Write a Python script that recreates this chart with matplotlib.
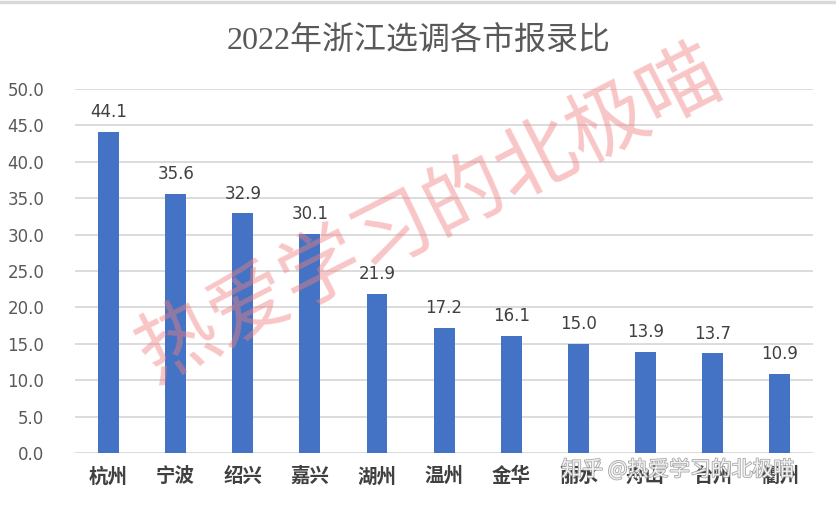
import matplotlib.pyplot as plt
import matplotlib.patheffects as pe

plt.rcParams['font.family'] = ['DejaVu Sans', 'Noto Sans CJK SC']

# Data
cities = ['杭州', '宁波', '绍兴', '嘉兴', '湖州', '温州', '金华', '丽水', '舟山', '台州', '衢州']
ratio = [44.1, 35.6, 32.9, 30.1, 21.9, 17.2, 16.1, 15.0, 13.9, 13.7, 10.9]
yticks = [0, 5, 10, 15, 20, 25, 30, 35, 40, 45, 50]

fig = plt.figure(figsize=(8.37, 5.08), dpi=100)
ax = fig.add_axes([0.0896, 0.108, 0.882, 0.717])

x = range(len(cities))
bars = ax.bar(x, ratio, width=0.31, color='#4472c4', zorder=2)

for xi, v in zip(x, ratio):
    ax.annotate(f'{v:.1f}', (xi, v), xytext=(0, 14), textcoords='offset points',
                ha='center', va='center', fontsize=12, color='#404040', zorder=3)

ax.set_xlim(-0.5, len(cities) - 0.5)
ax.set_ylim(0, 50)
ax.set_yticks(yticks)
ax.set_yticklabels([f'{t:.1f}' for t in yticks], fontsize=12, color='#595959')
ax.set_xticks(list(x))
ax.set_xticklabels(cities, fontsize=14, color='#404040', fontweight='bold',
                   family=['Noto Sans CJK SC'])
ax.tick_params(axis='both', length=0)
ax.tick_params(axis='y', pad=22)
ax.tick_params(axis='x', pad=10)
ax.grid(axis='y', color='#d9d9d9', linewidth=1.3, zorder=0)
ax.set_axisbelow(True)
for s in ax.spines.values():
    s.set_visible(False)

# Title
fig.text(0.5, 0.917, '2022年浙江选调各市报录比', ha='center', va='center',
         fontsize=23, color='#595959', family=['Liberation Serif', 'Noto Sans CJK SC'])

# top border line
fig.add_artist(plt.Line2D([0, 1], [0.997, 0.997], color='#d9d9d9', linewidth=2.5))

# watermarks
fig.text(0.514, 0.577, '热爱学习的北极喵', ha='center', va='center', rotation=27,
         fontsize=58, color='#f08080', alpha=0.45, family=['Noto Sans CJK SC'],
         zorder=5)
fig.text(0.81, 0.075, '知乎 @热爱学习的北极喵', ha='center', va='center',
         fontsize=15, color='white', alpha=0.85, family=['Noto Sans CJK SC', 'DejaVu Sans'],
         zorder=6, path_effects=[pe.withStroke(linewidth=1.2, foreground='#9a9a9a')])

fig.savefig('out.png', dpi=100)
